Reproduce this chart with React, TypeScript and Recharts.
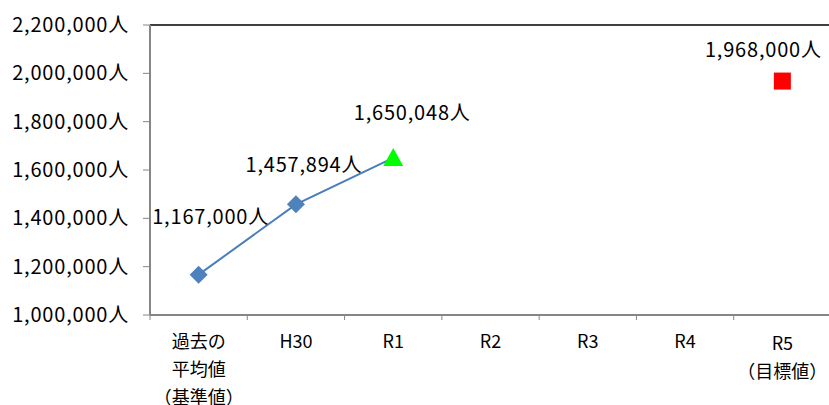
import { ComposedChart, Line, XAxis, YAxis, ReferenceLine, LabelList } from "recharts";

const categories = ["過去の\n平均値\n（基準値）", "H30", "R1", "R2", "R3", "R4", "R5\n（目標値）"];
const actual = [1167000, 1457894, 1650048, null, null, null, null];
const target = [null, null, null, null, null, null, 1968000];
const yTicks = [1000000, 1200000, 1400000, 1600000, 1800000, 2000000, 2200000];

const data = categories.map((name, i) => ({ name, actual: actual[i], target: target[i] }));

const FONT = '"Noto Sans CJK JP", "Noto Sans", sans-serif';
const BAND = 681 / categories.length;

// label offsets from each point, in px
const labelShift: Record<number, [number, number]> = {
  0: [12, -59],
  1: [8, -41],
  2: [19, -46],
  6: [-19, -33],
};

const fmt = (v: number) => v.toLocaleString("en-US") + "人";

function ActualDot(props: any) {
  const { cx, cy, index } = props;
  if (cx == null || cy == null) return null;
  if (index === 2) {
    return <polygon points={`${cx},${cy - 10} ${cx + 10},${cy + 8} ${cx - 10},${cy + 8}`} fill="#00ff00" />;
  }
  return <polygon points={`${cx},${cy - 9} ${cx + 9},${cy} ${cx},${cy + 9} ${cx - 9},${cy}`} fill="#4f81bd" />;
}

function TargetDot(props: any) {
  const { cx, cy } = props;
  if (cx == null || cy == null) return null;
  return <rect x={cx - 8.5} y={cy - 8.5} width={17} height={17} fill="#ff0000" />;
}

function ValueLabel(props: any) {
  const { x, y, value, index } = props;
  if (value == null) return null;
  const [dx, dy] = labelShift[index] ?? [0, -30];
  return (
    <text
      x={x + dx}
      y={y + dy}
      textAnchor="middle"
      dominantBaseline="central"
      fontSize={20}
      letterSpacing={0.8}
      fontFamily={FONT}
      fill="#000"
    >
      {fmt(value)}
    </text>
  );
}

function CategoryTick(props: any) {
  const { x, y, payload } = props;
  const lines = String(payload.value).split("\n");
  const first = lines.length > 1 && lines[0].length < 3 ? 27 : 25;
  return (
    <g>
      <line x1={x - BAND / 2} x2={x - BAND / 2} y1={y - 8} y2={y - 3} stroke="#868686" strokeWidth={1} />
      <text x={x} y={y + first} textAnchor="middle" fontSize={18} fontFamily={FONT} fill="#000">
        {lines.map((l, i) => (
          <tspan key={i} x={x} dy={i === 0 ? 0 : 28}>
            {l}
          </tspan>
        ))}
      </text>
    </g>
  );
}

export default function App() {
  return (
    <div style={{ position: "absolute", left: 0, top: 0, width: 829, height: 405, overflow: "hidden", background: "#fff" }}>
      <ComposedChart width={831} height={405} data={data} margin={{ top: 25, right: 0, bottom: 0, left: 0 }}>
        <XAxis
          dataKey="name"
          scale="band"
          interval={0}
          tickLine={false}
          axisLine={{ stroke: "#868686", strokeWidth: 2 }}
          tick={<CategoryTick />}
          height={90}
        />
        <YAxis
          domain={[1000000, 2200000]}
          ticks={yTicks}
          width={150}
          tickFormatter={fmt}
          tickSize={7}
          tickMargin={14}
          axisLine={{ stroke: "#868686", strokeWidth: 2 }}
          tickLine={{ stroke: "#868686" }}
          tick={{ fontSize: 20, fill: "#000", fontFamily: FONT, letterSpacing: 0.8 }}
          allowDataOverflow
        />
        <ReferenceLine y={2200000} stroke="#000" strokeWidth={1.5} />
        <Line
          dataKey="actual"
          stroke="#4a7ebb"
          strokeWidth={2}
          dot={<ActualDot />}
          activeDot={false}
          isAnimationActive={false}
        >
          <LabelList dataKey="actual" content={<ValueLabel />} />
        </Line>
        <Line
          dataKey="target"
          stroke="none"
          dot={<TargetDot />}
          activeDot={false}
          isAnimationActive={false}
        >
          <LabelList dataKey="target" content={<ValueLabel />} />
        </Line>
      </ComposedChart>
    </div>
  );
}
